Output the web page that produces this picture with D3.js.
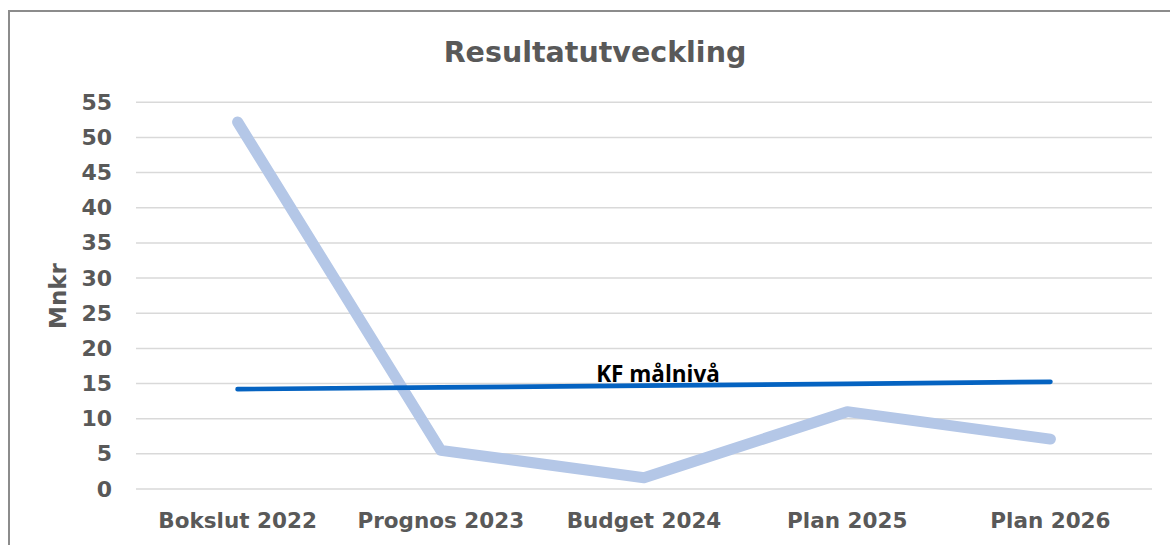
<!DOCTYPE html>
<html>
<head>
<meta charset="utf-8">
<script src="https://cdn.jsdelivr.net/npm/d3@7"></script>
<style>
  body { margin: 0; background: #fff; }
  svg { display: block; }
</style>
</head>
<body>
<svg width="1170" height="545"></svg>
<script>
// Data
const categories = ["Bokslut 2022", "Prognos 2023", "Budget 2024", "Plan 2025", "Plan 2026"];
const resultat = [52.2, 5.5, 1.6, 11.0, 7.1];
const kfMalniva = [14.2, 14.45, 14.7, 14.95, 15.25];
const yTicks = [0, 5, 10, 15, 20, 25, 30, 35, 40, 45, 50, 55];

const svg = d3.select("svg");
const font = "Verdana, 'DejaVu Sans', sans-serif";

// Outer frame
svg.append("rect")
    .attr("x", 9).attr("y", 11)
    .attr("width", 1180).attr("height", 560)
    .attr("fill", "none")
    .attr("stroke", "#8c8c8c")
    .attr("stroke-width", 2);

const plotLeft = 136, plotRight = 1152, plotTop = 102.3, plotBottom = 489;

const x = d3.scaleBand().domain(categories).range([plotLeft, plotRight]);
const y = d3.scaleLinear().domain([0, 55]).range([plotBottom, plotTop]);

// Gridlines
svg.append("g")
    .selectAll("line")
    .data(yTicks)
    .enter().append("line")
    .attr("x1", plotLeft).attr("x2", plotRight)
    .attr("y1", d => y(d)).attr("y2", d => y(d))
    .attr("stroke", "#d9d9d9")
    .attr("stroke-width", 1.5);

// Y axis labels
const yAxis = svg.append("g")
    .attr("transform", "translate(112,0)")
    .call(d3.axisLeft(y).tickValues(yTicks).tickSize(0).tickPadding(0));
yAxis.select(".domain").remove();
yAxis.selectAll("text")
    .attr("font-family", font)
    .attr("font-weight", "bold")
    .attr("font-size", 22)
    .attr("fill", "#595959");

// X axis labels
const xAxis = svg.append("g")
    .attr("transform", "translate(0," + plotBottom + ")")
    .call(d3.axisBottom(x).tickSize(0).tickPadding(24));
xAxis.select(".domain").remove();
xAxis.selectAll("text")
    .attr("font-family", font)
    .attr("font-weight", "bold")
    .attr("font-size", 21.5)
    .attr("fill", "#595959");

// Title
svg.append("text")
    .attr("x", 595).attr("y", 62)
    .attr("text-anchor", "middle")
    .attr("font-family", font)
    .attr("font-weight", "bold")
    .attr("font-size", 28.5)
    .attr("fill", "#595959")
    .text("Resultatutveckling");

// Y axis title
svg.append("text")
    .attr("transform", "translate(66,296) rotate(-90)")
    .attr("text-anchor", "middle")
    .attr("font-family", font)
    .attr("font-weight", "bold")
    .attr("font-size", 23)
    .attr("fill", "#595959")
    .text("Mnkr");

const line = d3.line()
    .x((d, i) => x(categories[i]) + x.bandwidth() / 2)
    .y(d => y(d));

// Resultat series
svg.append("path")
    .datum(resultat)
    .attr("d", line)
    .attr("fill", "none")
    .attr("stroke", "#b4c7e7")
    .attr("stroke-width", 11)
    .attr("stroke-linejoin", "round")
    .attr("stroke-linecap", "round");

// KF målnivå series
svg.append("path")
    .datum(kfMalniva)
    .attr("d", line)
    .attr("fill", "none")
    .attr("stroke", "#0563c1")
    .attr("stroke-width", 4.7)
    .attr("stroke-linejoin", "round")
    .attr("stroke-linecap", "round");

// Series label
svg.append("text")
    .attr("x", 658)
    .attr("y", 382)
    .attr("text-anchor", "middle")
    .attr("font-family", "'Open Sans', Lato, sans-serif")
    .attr("font-weight", "bold")
    .attr("font-size", 22.5)
    .attr("fill", "#000")
    .text("KF målnivå");
</script>
</body>
</html>
